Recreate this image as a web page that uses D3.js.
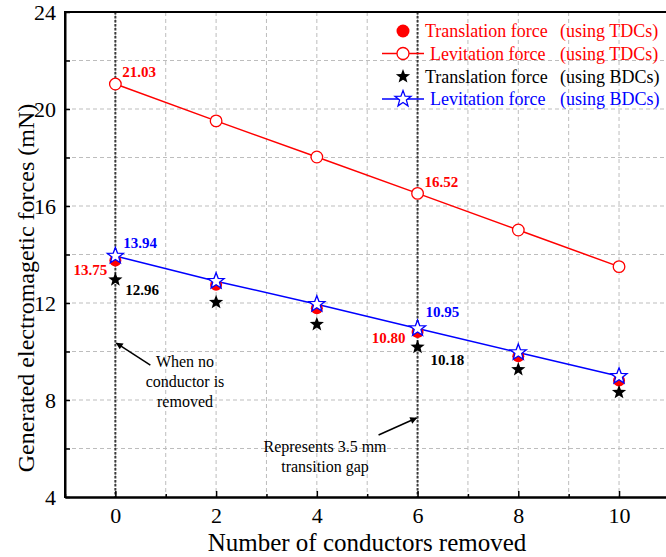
<!DOCTYPE html>
<html>
<head>
<meta charset="utf-8">
<script src="https://cdn.jsdelivr.net/npm/d3@7"></script>
<style>
  html, body { margin: 0; padding: 0; background: #fff; }
  svg { display: block; }
  text { font-family: "Liberation Serif", "Times New Roman", serif; }
</style>
</head>
<body>
<svg id="chart" width="666" height="557"></svg>
<script>
// Number of conductors removed
const conductors = [0, 2, 4, 6, 8, 10];
// Forces in mN
const levitationTDC = [21.03, 19.51, 18.02, 16.52, 15.01, 13.50];
const translationTDC = [13.75, 12.75, 11.78, 10.80, 9.80, 8.80];
const translationBDC = [12.96, 12.03, 11.12, 10.18, 9.26, 8.32];
const levitationBDC = [13.94, 12.90, 11.95, 10.95, 9.96, 8.98];

const yMajorTicks = [4, 8, 12, 16, 20, 24];
const yGridTicks = [6, 8, 10, 12, 14, 16, 18, 20, 22];
const xMajorTicks = [0, 2, 4, 6, 8, 10];
const xMinorTicks = [-1, 1, 3, 5, 7, 9];
const xGridTicks = [0, 1, 2, 3, 4, 5, 6, 7, 8, 9, 10];

const legendItems = [
  { name: "Translation force", note: "(using TDCs)", color: "#ff0000", marker: "dot", line: false },
  { name: "Levitation force", note: "(using TDCs)", color: "#ff0000", marker: "ring", line: true },
  { name: "Translation force", note: "(using BDCs)", color: "#000000", marker: "star", line: false },
  { name: "Levitation force", note: "(using BDCs)", color: "#0000ff", marker: "openstar", line: true }
];

const RED = "#ff0000", BLUE = "#0000ff";

const svg = d3.select("#chart");
const plot = { left: 65, top: 12, bottom: 497, right: 669.4 };

const x = d3.scaleLinear().domain([-1, 11]).range([plot.left, plot.right]);
const y = d3.scaleLinear().domain([4, 24]).range([plot.bottom, plot.top]);

// five-pointed star path centred on the origin
function starPath(R) {
  const r = R * 0.42;
  const pts = [];
  for (let i = 0; i < 10; i++) {
    const a = -Math.PI / 2 + i * Math.PI / 5;
    const rad = i % 2 === 0 ? R : r;
    pts.push([rad * Math.cos(a), rad * Math.sin(a)]);
  }
  return "M" + pts.map(p => p[0].toFixed(2) + "," + p[1].toFixed(2)).join("L") + "Z";
}

// grid
const grid = svg.append("g");
grid.selectAll("line.h").data(yGridTicks).join("line")
  .attr("x1", plot.left).attr("x2", plot.right)
  .attr("y1", d => y(d)).attr("y2", d => y(d))
  .attr("stroke", "#bdbdbd").attr("stroke-width", 1).attr("stroke-dasharray", "4,3");
grid.selectAll("line.v").data(xGridTicks).join("line")
  .attr("x1", d => x(d)).attr("x2", d => x(d))
  .attr("y1", plot.top).attr("y2", plot.bottom)
  .attr("stroke", "#bdbdbd").attr("stroke-width", 1).attr("stroke-dasharray", "4,3");

// reference lines at 0 and 6 conductors
svg.append("g").selectAll("line").data([0, 6]).join("line")
  .attr("x1", d => x(d)).attr("x2", d => x(d))
  .attr("y1", plot.top).attr("y2", plot.bottom)
  .attr("stroke", "#3a3a3a").attr("stroke-width", 2).attr("stroke-dasharray", "2.5,1.5");

// axes
const yAxis = d3.axisLeft(y).tickValues(d3.range(4, 25, 2)).tickSizeInner(-5).tickSizeOuter(0)
  .tickPadding(9).tickFormat(d => yMajorTicks.includes(d) ? d : "");
const gy = svg.append("g").attr("transform", `translate(${plot.left},0)`).call(yAxis);
const xAxisMinor = d3.axisBottom(x).tickValues(xMinorTicks).tickSizeInner(-3).tickSizeOuter(0).tickFormat("");
const xAxis = d3.axisBottom(x).tickValues(xMajorTicks).tickSizeInner(-6).tickSizeOuter(0).tickPadding(10);
const gxm = svg.append("g").attr("transform", `translate(0,${plot.bottom})`).call(xAxisMinor);
const gx = svg.append("g").attr("transform", `translate(0,${plot.bottom})`).call(xAxis);
[gy, gx, gxm].forEach(g => {
  g.select(".domain").attr("stroke", "#000").attr("stroke-width", 2);
  g.selectAll(".tick line").attr("stroke", "#000").attr("stroke-width", 1.5);
  g.selectAll(".tick text").attr("fill", "#000").attr("font-size", 22)
    .style("font-family", '"Liberation Serif", serif');
});
gy.selectAll(".tick text").attr("dy", "0.34em");
// top frame line
svg.append("line").attr("x1", plot.left).attr("x2", plot.right)
  .attr("y1", plot.top).attr("y2", plot.top).attr("stroke", "#000").attr("stroke-width", 2);
svg.append("line").attr("x1", plot.left).attr("x2", plot.left)
  .attr("y1", plot.top - 1).attr("y2", plot.bottom + 1).attr("stroke", "#000").attr("stroke-width", 2);

// axis titles
svg.append("text").attr("x", 367).attr("y", 551).attr("text-anchor", "middle")
  .attr("font-size", 25).text("Number of conductors removed");
svg.append("text").attr("transform", "translate(34,288) rotate(-90)").attr("text-anchor", "middle")
  .attr("font-size", 24).text("Generated electromagetic forces (mN)");

// series lines
const line = d3.line().x((d, i) => x(conductors[i])).y(d => y(d));
svg.append("path").datum(levitationTDC).attr("d", line)
  .attr("fill", "none").attr("stroke", RED).attr("stroke-width", 1.5);
svg.append("path").datum(levitationBDC).attr("d", line)
  .attr("fill", "none").attr("stroke", BLUE).attr("stroke-width", 1.5);

// markers
svg.append("g").selectAll("circle").data(levitationTDC).join("circle")
  .attr("cx", (d, i) => x(conductors[i])).attr("cy", d => y(d)).attr("r", 5.8)
  .attr("fill", "#fff").attr("stroke", RED).attr("stroke-width", 1.3);
svg.append("g").selectAll("circle").data(translationTDC).join("circle")
  .attr("cx", (d, i) => x(conductors[i])).attr("cy", d => y(d)).attr("r", 6)
  .attr("fill", RED);
svg.append("g").selectAll("path").data(translationBDC).join("path")
  .attr("transform", (d, i) => `translate(${x(conductors[i])},${y(d)})`)
  .attr("d", starPath(7.5)).attr("fill", "#000");
svg.append("g").selectAll("path").data(levitationBDC).join("path")
  .attr("transform", (d, i) => `translate(${x(conductors[i])},${y(d)})`)
  .attr("d", starPath(8.5)).attr("fill", "#fff").attr("stroke", BLUE).attr("stroke-width", 1.3);

// value labels at 0 and 6 conductors
const valueLabels = [
  { series: levitationTDC, i: 0, color: RED, dx: 7, dy: -7, anchor: "start" },
  { series: levitationBDC, i: 0, color: BLUE, dx: 8, dy: -8, anchor: "start" },
  { series: translationTDC, i: 0, color: RED, dx: -8, dy: 14, anchor: "end" },
  { series: translationBDC, i: 0, color: "#000", dx: 10, dy: 15, anchor: "start" },
  { series: levitationTDC, i: 3, color: RED, dx: 7, dy: -6.5, anchor: "start" },
  { series: levitationBDC, i: 3, color: BLUE, dx: 8, dy: -11, anchor: "start" },
  { series: translationTDC, i: 3, color: RED, dx: -12, dy: 11, anchor: "end" },
  { series: translationBDC, i: 3, color: "#000", dx: 13, dy: 18, anchor: "start" }
];
svg.append("g").selectAll("text").data(valueLabels).join("text")
  .attr("x", d => x(conductors[d.i]) + d.dx)
  .attr("y", d => y(d.series[d.i]) + d.dy)
  .attr("text-anchor", d => d.anchor)
  .attr("fill", d => d.color).attr("font-size", 15).attr("font-weight", "bold")
  .text(d => d.series[d.i].toFixed(2));

// annotations
svg.append("defs").append("marker").attr("id", "arrow")
  .attr("viewBox", "0 0 10 10").attr("refX", 9).attr("refY", 5)
  .attr("markerWidth", 9).attr("markerHeight", 7).attr("markerUnits", "userSpaceOnUse")
  .attr("orient", "auto")
  .append("path").attr("d", "M0,0L10,5L0,10Z").attr("fill", "#000");

svg.append("line")
  .attr("x1", x(0) + 35).attr("y1", y(10.35) + 22)
  .attr("x2", x(0) + 1).attr("y2", y(10.35))
  .attr("stroke", "#000").attr("stroke-width", 1.5).attr("marker-end", "url(#arrow)");
svg.append("line")
  .attr("x1", x(6) - 39).attr("y1", y(7.26) + 17)
  .attr("x2", x(6) - 1).attr("y2", y(7.26))
  .attr("stroke", "#000").attr("stroke-width", 1.5).attr("marker-end", "url(#arrow)");

const note1 = svg.append("text").attr("text-anchor", "middle").attr("font-size", 16).attr("fill", "#000");
["When no", "conductor is", "removed"].forEach((t, k) => {
  note1.append("tspan").attr("x", 185).attr("y", 367 + k * 20).text(t);
});
const note2 = svg.append("text").attr("text-anchor", "middle").attr("font-size", 16).attr("fill", "#000");
["Represents 3.5 mm", "transition gap"].forEach((t, k) => {
  note2.append("tspan").attr("x", 325).attr("y", 452 + k * 20).text(t);
});

// legend
const legend = svg.append("g");
const rowsY = [31, 53.5, 76.5, 99];
const nameX = [425, 430, 425, 430];
legendItems.forEach((it, k) => {
  const g = legend.append("g").attr("transform", `translate(0,${rowsY[k]})`);
  if (it.line) {
    g.append("line").attr("x1", 382).attr("x2", 424).attr("y1", 0).attr("y2", 0)
      .attr("stroke", it.color).attr("stroke-width", 1.5);
  }
  if (it.marker === "dot") {
    g.append("circle").attr("cx", 403).attr("cy", 0).attr("r", 6.5).attr("fill", it.color);
  } else if (it.marker === "ring") {
    g.append("circle").attr("cx", 403).attr("cy", 0).attr("r", 6).attr("fill", "#fff")
      .attr("stroke", it.color).attr("stroke-width", 1.3);
  } else if (it.marker === "star") {
    g.append("path").attr("transform", "translate(403,0)").attr("d", starPath(7.5)).attr("fill", it.color);
  } else {
    g.append("path").attr("transform", "translate(403,0)").attr("d", starPath(8.5))
      .attr("fill", "#fff").attr("stroke", it.color).attr("stroke-width", 1.3);
  }
  g.append("text").attr("x", nameX[k]).attr("y", 6).attr("font-size", 18).attr("fill", it.color).text(it.name);
  g.append("text").attr("x", 560).attr("y", 6).attr("font-size", 18).attr("fill", it.color).text(it.note);
});
</script>
</body>
</html>
